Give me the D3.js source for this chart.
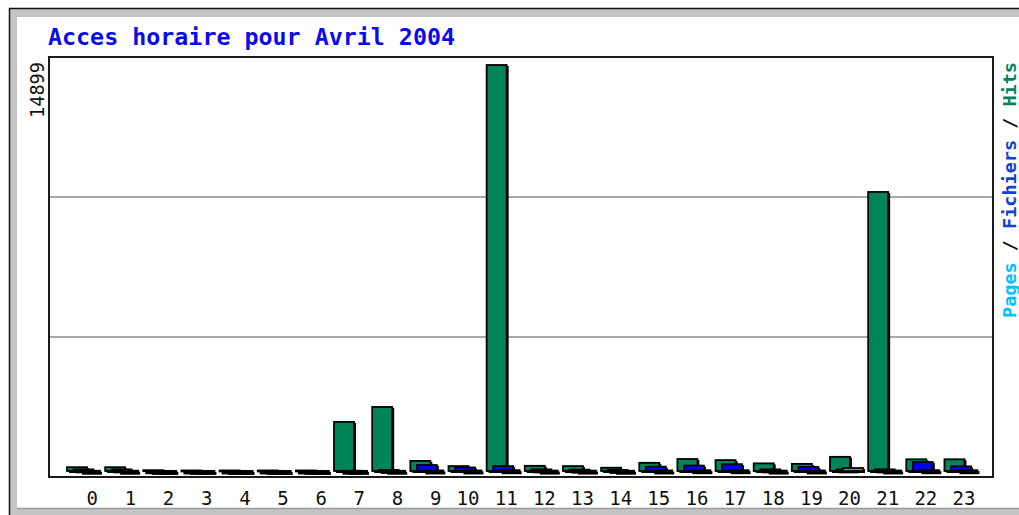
<!DOCTYPE html>
<html>
<head>
<meta charset="utf-8">
<script src="https://cdn.jsdelivr.net/npm/d3@7/dist/d3.min.js"></script>
<style>
  html, body { margin: 0; padding: 0; background: #ffffff; }
  svg { display: block; }
</style>
</head>
<body>
<svg id="chart" width="1019" height="515"></svg>
<script>
// ---- data ----
const hours = ["0","1","2","3","4","5","6","7","8","9","10","11","12","13","14","15","16","17","18","19","20","21","22","23"];
const hits  = [140,140,30,20,20,20,20,1800,2350,370,180,14899,190,180,120,300,440,400,280,260,520,10240,430,430];
const files = [60,60,5,5,5,5,5,10,40,220,130,180,60,50,40,160,200,250,60,150,60,60,330,170];
const pages = [10,10,2,2,2,2,2,5,10,20,20,30,15,15,10,20,30,30,15,20,110,20,30,30];
const maxLabel = "14899";
const title = "Acces horaire pour Avril 2004";
const seriesNames = ["Hits","Fichiers","Pages"];
const seriesColors = { Hits: "#00855a", Fichiers: "#0000ff", Pages: "#00c0ff" };

const svg = d3.select("#chart");

// ---- outer frame ----
svg.append("rect").attr("x", 0).attr("y", 0).attr("width", 1019).attr("height", 515).attr("fill", "#ffffff");
svg.append("rect").attr("x", 9).attr("y", 8).attr("width", 1010).attr("height", 507).attr("fill", "#c4c4c4");
svg.append("line").attr("x1", 9).attr("x2", 1019).attr("y1", 8.5).attr("y2", 8.5).attr("stroke", "#111").attr("stroke-width", 1.5);
svg.append("line").attr("x1", 9.5).attr("x2", 9.5).attr("y1", 8).attr("y2", 515).attr("stroke", "#111").attr("stroke-width", 1.5);
svg.append("rect").attr("x", 17).attr("y", 17).attr("width", 1002).attr("height", 491).attr("fill", "#ffffff");
svg.append("line").attr("x1", 17).attr("x2", 1019).attr("y1", 508.5).attr("y2", 508.5).attr("stroke", "#9a9a9a").attr("stroke-width", 1.5);

// ---- plot frame ----
const plot = { left: 49, right: 993, top: 57, bottom: 477 };
const ph = plot.bottom - plot.top;
[1/3, 2/3].forEach(f => {
  svg.append("line")
    .attr("x1", plot.left).attr("x2", plot.right)
    .attr("y1", plot.bottom - ph * f).attr("y2", plot.bottom - ph * f)
    .attr("stroke", "#a8a8a8").attr("stroke-width", 2);
});
svg.append("rect")
  .attr("x", plot.left).attr("y", plot.top)
  .attr("width", plot.right - plot.left).attr("height", ph)
  .attr("fill", "none").attr("stroke", "#1a1a1a").attr("stroke-width", 2);

// ---- scales ----
const x = d3.scaleBand().domain(hours).range([67, 67 + 38.15 * hours.length]).paddingInner(0).paddingOuter(0).align(0);
const sub = d3.scalePoint().domain(seriesNames).range([0, 13]);
const barW = 20;
const y = d3.scaleLinear().domain([0, 14899]).range([471, 65]);

const seriesData = { Hits: hits, Fichiers: files, Pages: pages };

// ---- bars ----
seriesNames.forEach(name => {
  const g = svg.append("g");
  const vals = seriesData[name];
  // shadow
  g.selectAll("rect.sh").data(hours).enter().append("rect")
    .attr("x", (d, i) => x(d) + sub(name) + 2)
    .attr("y", (d, i) => y(vals[i]) + 1)
    .attr("width", barW)
    .attr("height", (d, i) => Math.max(2, y(0) - y(vals[i])) + 1)
    .attr("fill", "#000");
  // bar
  g.selectAll("rect.b").data(hours).enter().append("rect")
    .attr("x", (d, i) => x(d) + sub(name))
    .attr("y", (d, i) => y(vals[i]))
    .attr("width", barW)
    .attr("height", (d, i) => Math.max(1, y(0) - y(vals[i])))
    .attr("fill", seriesColors[name])
    .attr("stroke", "#000").attr("stroke-width", 1.8);
});

// ---- x labels ----
svg.append("g").selectAll("text").data(hours).enter().append("text")
  .attr("x", d => x(d) + 31)
  .attr("y", 505)
  .attr("text-anchor", "end")
  .attr("font-family", "DejaVu Sans Mono, monospace")
  .attr("font-size", 19)
  .attr("fill", "#111")
  .text(d => d);

// ---- title ----
svg.append("text")
  .attr("x", 48).attr("y", 45)
  .attr("font-family", "DejaVu Sans Mono, monospace")
  .attr("font-weight", "bold")
  .attr("font-size", 23)
  .attr("fill", "#0a0aee")
  .attr("textLength", 407).attr("lengthAdjust", "spacingAndGlyphs")
  .text(title);

// ---- y max label ----
svg.append("text")
  .attr("transform", "translate(44,62) rotate(-90)")
  .attr("text-anchor", "end")
  .attr("font-family", "DejaVu Sans Mono, monospace")
  .attr("font-size", 19)
  .attr("fill", "#111")
  .attr("textLength", 56).attr("lengthAdjust", "spacingAndGlyphs")
  .text(maxLabel);

// ---- legend ----
const leg = svg.append("text")
  .attr("transform", "translate(1016,318) rotate(-90)")
  .attr("font-family", "DejaVu Sans Mono, monospace")
  .attr("font-weight", "bold")
  .attr("font-size", 18)
  .attr("textLength", 256).attr("lengthAdjust", "spacingAndGlyphs");
const legParts = [
  { t: "Pages", c: seriesColors.Pages },
  { t: " / ", c: "#111" },
  { t: "Fichiers", c: "#1040d8" },
  { t: " / ", c: "#111" },
  { t: "Hits", c: seriesColors.Hits }
];
legParts.forEach(p => leg.append("tspan").attr("fill", p.c).text(p.t));
</script>
</body>
</html>
